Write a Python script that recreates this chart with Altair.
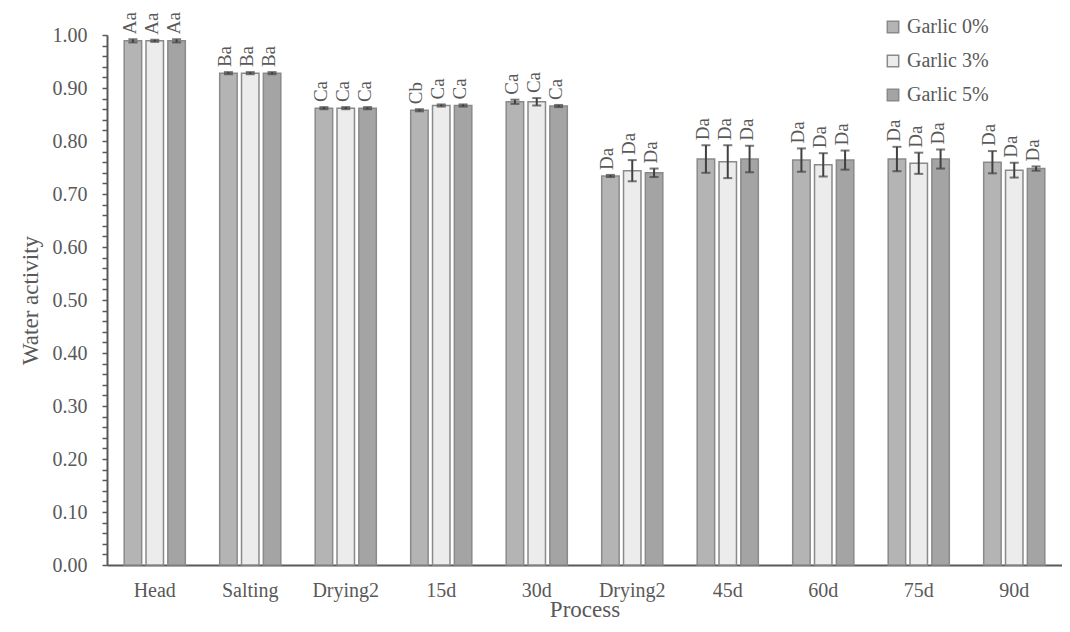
import altair as alt
import pandas as pd

processes = ["Head", "Salting", "Drying2", "15d", "30d", "Drying2", "45d", "60d", "75d", "90d"]
series = ["Garlic 0%", "Garlic 3%", "Garlic 5%"]

g0 = [0.989, 0.928, 0.862, 0.858, 0.874, 0.734, 0.766, 0.764, 0.766, 0.760]
g3 = [0.989, 0.928, 0.862, 0.867, 0.874, 0.744, 0.761, 0.755, 0.758, 0.745]
g5 = [0.989, 0.928, 0.862, 0.867, 0.866, 0.740, 0.766, 0.764, 0.766, 0.748]

e0 = [0.003, 0.002, 0.002, 0.002, 0.004, 0.002, 0.026, 0.022, 0.023, 0.021]
e3 = [0.002, 0.002, 0.002, 0.002, 0.007, 0.020, 0.031, 0.022, 0.020, 0.014]
e5 = [0.003, 0.002, 0.002, 0.002, 0.002, 0.008, 0.025, 0.018, 0.018, 0.004]

lab0 = ["Aa", "Ba", "Ca", "Cb", "Ca", "Da", "Da", "Da", "Da", "Da"]
lab3 = ["Aa", "Ba", "Ca", "Ca", "Ca", "Da", "Da", "Da", "Da", "Da"]
lab5 = ["Aa", "Ba", "Ca", "Ca", "Ca", "Da", "Da", "Da", "Da", "Da"]

y_ticks = [round(i * 0.02, 2) for i in range(51)]

rows = []
for s, vals, errs, labs in zip(series, [g0, g3, g5], [e0, e3, e5], [lab0, lab3, lab5]):
    for i, (v, e, l) in enumerate(zip(vals, errs, labs)):
        rows.append({"key": str(i), "series": s, "value": v,
                     "lo": v - e, "hi": v + e, "label": l})
df = pd.DataFrame(rows)

keys = [str(i) for i in range(len(processes))]
label_expr = "[" + ",".join("'" + p + "'" for p in processes) + "][toNumber(datum.value)]"

FONT = "Liberation Serif"
TXT = "#595959"

x_axis = alt.Axis(title="Process", labelExpr=label_expr, labelAngle=0,
                  ticks=False, labelPadding=15, titlePadding=-2,
                  domainColor=TXT, domainWidth=2)
y_axis = alt.Axis(title="Water activity", values=y_ticks,
                  labelExpr="abs(datum.value*10 - round(datum.value*10)) < 0.001 ? format(datum.value, '.2f') : ''",
                  labelOverlap=False, tickSize=5, tickWidth=1.5, labelPadding=15,
                  titlePadding=10, grid=False, ticks=True,
                  domainColor=TXT, domainWidth=2, tickColor=TXT)

x_scale = alt.Scale(paddingInner=0.36, paddingOuter=0.18)
x_enc = alt.X("key:N", sort=keys, scale=x_scale, axis=x_axis)
xo_enc = alt.XOffset("series:N", sort=series,
                     scale=alt.Scale(paddingInner=0.2, paddingOuter=0.0))
y_scale = alt.Scale(domain=[0, 1], nice=False, zero=True)

bars = alt.Chart(df).mark_bar(stroke="#8a8a8a", strokeWidth=1.5).encode(
    x=x_enc,
    xOffset=xo_enc,
    y=alt.Y("value:Q", scale=y_scale, axis=y_axis),
    color=alt.Color("series:N", sort=series,
                    scale=alt.Scale(domain=series, range=["#b4b4b4", "#ececec", "#a4a4a4"]),
                    legend=alt.Legend(title=None, orient="none", legendX=776, legendY=-18,
                                      symbolType="square", symbolSize=130,
                                      symbolStrokeColor="#8a8a8a", symbolStrokeWidth=1.5,
                                      labelFont=FONT, labelFontSize=20, labelColor=TXT,
                                      rowPadding=14, labelOffset=4)),
)

err = alt.Chart(df).mark_rule(color="#404040", strokeWidth=2).encode(
    x=x_enc, xOffset=xo_enc,
    y=alt.Y("lo:Q", scale=y_scale, axis=y_axis), y2="hi:Q")

cap_hi = alt.Chart(df).mark_tick(color="#404040", thickness=2, size=9).encode(
    x=x_enc, xOffset=xo_enc,
    y=alt.Y("hi:Q", scale=y_scale, axis=y_axis))

cap_lo = alt.Chart(df).mark_tick(color="#404040", thickness=2, size=9).encode(
    x=x_enc, xOffset=xo_enc,
    y=alt.Y("lo:Q", scale=y_scale, axis=y_axis))

text = alt.Chart(df).mark_text(angle=270, align="left", baseline="middle",
                               dx=5, dy=-3, font=FONT, fontSize=19, color=TXT).encode(
    x=x_enc, xOffset=xo_enc,
    y=alt.Y("hi:Q", scale=y_scale, axis=y_axis), text="label:N")

chart = alt.layer(bars, err, cap_hi, cap_lo, text).properties(
    width=955, height=530,
    autosize=alt.AutoSizeParams(type="none"),
    padding={"left": 99, "top": 27, "right": 0, "bottom": 59},
).configure_view(stroke=None).configure_axis(
    labelFont=FONT, labelFontSize=20, labelColor=TXT,
    titleFont=FONT, titleFontSize=23, titleFontWeight="normal", titleColor=TXT,
).configure_axisY(labelOverlap=False)

chart.save("out.html", embed_options={"renderer": "svg", "actions": False})
